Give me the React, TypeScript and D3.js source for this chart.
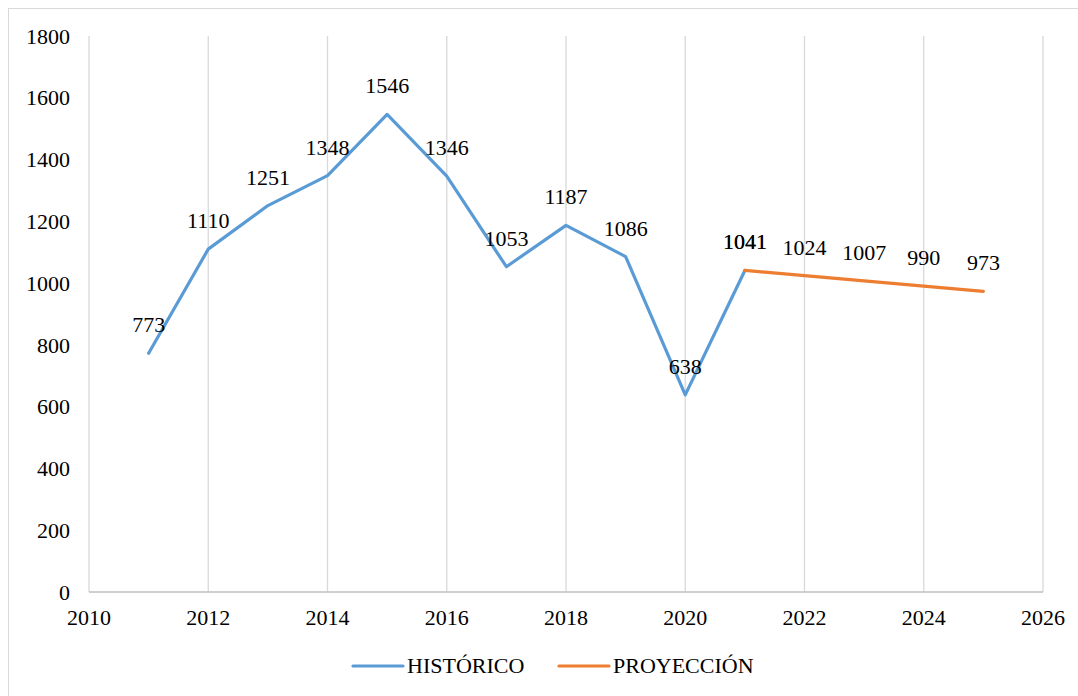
import React from "react";
import * as d3 from "d3";

// Historical and projected series
const histYears = [2011, 2012, 2013, 2014, 2015, 2016, 2017, 2018, 2019, 2020, 2021];
const histValues = [773, 1110, 1251, 1348, 1546, 1346, 1053, 1187, 1086, 638, 1041];
const projYears = [2021, 2022, 2023, 2024, 2025];
const projValues = [1041, 1024, 1007, 990, 973];

const xTicks = [2010, 2012, 2014, 2016, 2018, 2020, 2022, 2024, 2026];
const yTicks = [0, 200, 400, 600, 800, 1000, 1200, 1400, 1600, 1800];

const BLUE = "#5B9BD5";
const ORANGE = "#ED7D31";
const FONT = '"Liberation Serif", "Times New Roman", "DejaVu Serif", serif';

export default function App() {
  const width = 1078,
    height = 696;

  const x = d3.scaleLinear().domain([2010, 2026]).range([89, 1043]);
  const y = d3.scaleLinear().domain([0, 1800]).range([592, 36]);

  const seriesLine = d3
    .line<[number, number]>()
    .x(d => x(d[0]))
    .y(d => y(d[1]));

  const hist = histYears.map((yr, i) => [yr, histValues[i]] as [number, number]);
  const proj = projYears.map((yr, i) => [yr, projValues[i]] as [number, number]);

  const txt = { fontFamily: FONT, fontSize: "22px" };

  return (
    <svg
      width={width}
      height={height}
      style={{ position: "absolute", left: 0, top: 0, background: "#fff", fontFamily: FONT }}
    >
      {/* chart border */}
      <rect x={8.5} y={8.5} width={1100} height={720} fill="#fff" stroke="#d9d9d9" strokeWidth={1} />

      {/* vertical gridlines */}
      {xTicks.map(t => (
        <line key={t} x1={x(t)} x2={x(t)} y1={y(1800)} y2={y(0)} stroke="#d9d9d9" strokeWidth={1.3} />
      ))}
      {/* x axis line */}
      <line x1={x(2010)} x2={x(2026)} y1={y(0)} y2={y(0)} stroke="#bfbfbf" strokeWidth={1.3} />

      {/* y tick labels */}
      {yTicks.map(t => (
        <text key={t} x={70} y={y(t)} dy="0.35em" textAnchor="end" style={txt} fill="#000">
          {t}
        </text>
      ))}
      {/* x tick labels */}
      {xTicks.map(t => (
        <text key={t} x={x(t)} y={y(0) + 33} textAnchor="middle" style={txt} fill="#000">
          {t}
        </text>
      ))}

      {/* series */}
      <path d={seriesLine(hist) || ""} fill="none" stroke={BLUE} strokeWidth={3.2} strokeLinecap="round" strokeLinejoin="round" />
      <path d={seriesLine(proj) || ""} fill="none" stroke={ORANGE} strokeWidth={3.2} strokeLinecap="round" strokeLinejoin="round" />

      {/* data labels */}
      {hist.map(d => (
        <text key={"h" + d[0]} x={x(d[0])} y={y(d[1]) - 21} textAnchor="middle" style={txt} fill="#000">
          {d[1]}
        </text>
      ))}
      {proj.map(d => (
        <text key={"p" + d[0]} x={x(d[0])} y={y(d[1]) - 21} textAnchor="middle" style={txt} fill="#000">
          {d[1]}
        </text>
      ))}

      {/* legend */}
      <line x1={353} x2={403} y1={666} y2={666} stroke={BLUE} strokeWidth={3.2} strokeLinecap="round" />
      <text x={407} y={673} style={txt} fill="#000">HISTÓRICO</text>
      <line x1={559} x2={609} y1={666} y2={666} stroke={ORANGE} strokeWidth={3.2} strokeLinecap="round" />
      <text x={613} y={673} style={txt} fill="#000">PROYECCIÓN</text>
    </svg>
  );
}
